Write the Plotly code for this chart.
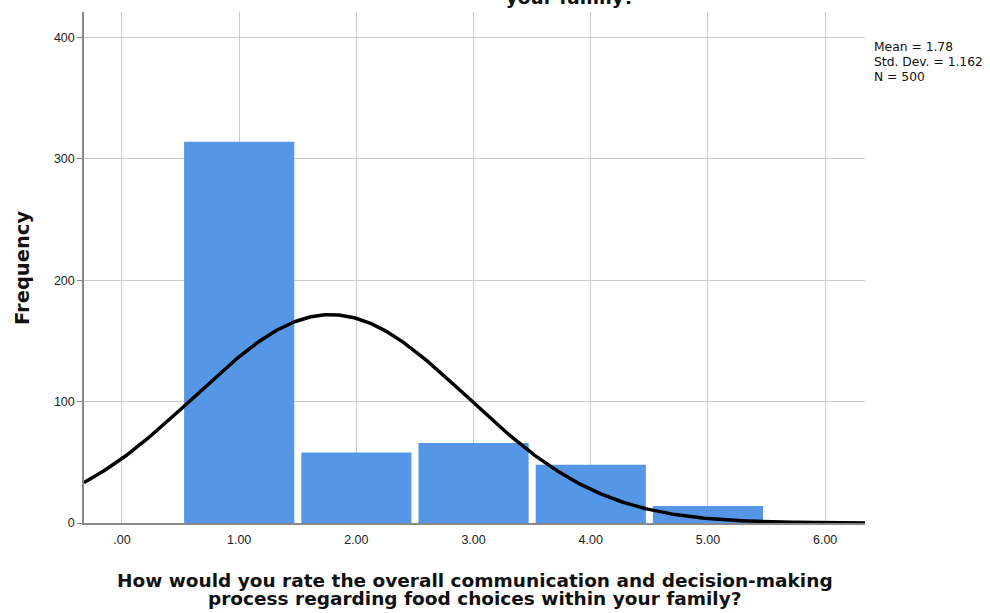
import numpy as np
import plotly.graph_objects as go

# Data
categories = [1, 2, 3, 4, 5]
frequencies = [314, 58, 66, 48, 14]
mean_val = 1.78
std_val = 1.162
n_val = 500
x_tick_vals = [0, 1, 2, 3, 4, 5, 6]
x_tick_text = [".00", "1.00", "2.00", "3.00", "4.00", "5.00", "6.00"]
y_tick_vals = [0, 100, 200, 300, 400]
stats_lines = ["Mean = 1.78", "Std. Dev. = 1.162", "N = 500"]
x_title_lines = ["How would you rate the overall communication and decision-making",
                 "process regarding food choices within your family?"]
top_title = "How would you rate the overall communication and decision-making process regarding food choices within<br>your family?"

x_min, x_max = -0.324, 6.34
L, R, T, B = 84, 125, 12, 90
W, H = 990, 613
PW, PH = W - L - R, H - T - B

def px_x(p):
    return (p - L) / PW

def px_y(p):
    return (H - B - p) / PH

# Normal curve scaled to N * bin width
xs = np.linspace(x_min, x_max, 400)
ys = n_val * 1.0 / (std_val * np.sqrt(2 * np.pi)) * np.exp(-0.5 * ((xs - mean_val) / std_val) ** 2)

fig = go.Figure()
fig.add_trace(go.Bar(
    x=categories, y=frequencies, width=0.94,
    marker=dict(color="#5596E6", line=dict(width=0)),
    hoverinfo="x+y",
))
fig.add_trace(go.Scatter(
    x=xs, y=ys, mode="lines",
    line=dict(color="black", width=3.5),
    hoverinfo="skip",
))

title_font = dict(family="DejaVu Sans", size=18.5, color="#111", weight="bold")

annotations = []
for i, line in enumerate(stats_lines):
    annotations.append(dict(
        text=line, xref="paper", yref="paper", x=px_x(872), y=px_y(47 + 15 * i),
        xanchor="left", yanchor="middle", showarrow=False,
        font=dict(family="DejaVu Sans", size=12.3, color="#111"),
    ))
for i, line in enumerate(x_title_lines):
    annotations.append(dict(
        text=line, xref="paper", yref="paper", x=px_x(475), y=px_y(580 + 18 * i),
        xanchor="center", yanchor="middle", showarrow=False, font=title_font,
    ))
annotations.append(dict(
    text="Frequency", xref="paper", yref="paper", x=px_x(22), y=px_y(268),
    xanchor="center", yanchor="middle", textangle=-90, showarrow=False,
    font=dict(family="DejaVu Sans", size=19.5, color="#111", weight="bold"),
))
annotations.append(dict(
    text=top_title, xref="paper", yref="paper", x=px_x(570), y=px_y(10),
    xanchor="center", yanchor="bottom", showarrow=False, align="center", font=title_font,
))

fig.update_layout(
    width=W, height=H,
    margin=dict(l=L, r=R, t=T, b=B),
    paper_bgcolor="white", plot_bgcolor="white",
    showlegend=False,
    font=dict(family="Arial, Liberation Sans, sans-serif", color="#222"),
    xaxis=dict(
        range=[x_min, x_max], tickvals=x_tick_vals, ticktext=x_tick_text,
        showgrid=True, gridcolor="#cccccc", gridwidth=1,
        showline=True, linecolor="#888888", linewidth=1.5,
        zeroline=False, ticks="outside", ticklen=4, tickcolor="white",
        tickfont=dict(size=12.5, color="#222"),
        automargin=False,
    ),
    yaxis=dict(
        range=[0, 421], tickvals=y_tick_vals,
        showgrid=True, gridcolor="#cccccc", gridwidth=1,
        showline=True, linecolor="#888888", linewidth=1.5,
        zeroline=False, ticks="outside", ticklen=5, tickcolor="#888888",
        tickfont=dict(size=12.5, color="#222"),
        automargin=False,
    ),
    annotations=annotations,
)

fig.write_html("out.html", config={"displayModeBar": False},
               post_script="document.body.style.margin='0';")
